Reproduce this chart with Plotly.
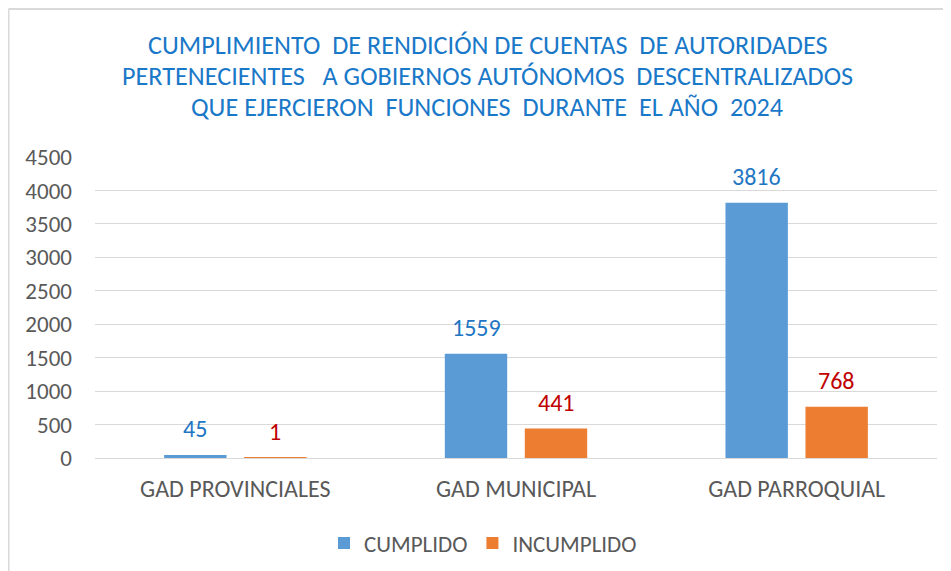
import plotly.graph_objects as go

categories = ["GAD PROVINCIALES", "GAD MUNICIPAL", "GAD PARROQUIAL"]
cumplido = [45, 1559, 3816]
incumplido = [1, 441, 768]
y_ticks = [0, 500, 1000, 1500, 2000, 2500, 3000, 3500, 4000, 4500]
title_lines = [
    "CUMPLIMIENTO  DE RENDICIÓN DE CUENTAS  DE AUTORIDADES",
    "PERTENECIENTES   A GOBIERNOS AUTÓNOMOS  DESCENTRALIZADOS",
    "QUE EJERCIERON  FUNCIONES  DURANTE  EL AÑO  2024",
]

FONT = "Carlito, Calibri, 'Liberation Sans Narrow', 'Open Sans', sans-serif"
OFF = 8  # page body margin
W, H = 951 - OFF, 571 - OFF
L, R, T, B = 95 - OFF, W - (937 - OFF), 157 - OFF, H - (458 - OFF)
pw = W - L - R
ph = H - T - B


def px_x(x):
    return (x - OFF - L) / pw


def px_y(y):
    return (H - B - (y - OFF)) / ph


fig = go.Figure()
fig.add_trace(go.Bar(
    name="CUMPLIDO", x=categories, y=cumplido,
    marker=dict(color="#5B9BD5", line=dict(width=0)),
))
fig.add_trace(go.Bar(
    name="INCUMPLIDO", x=categories, y=incumplido,
    marker=dict(color="#ED7D31", line=dict(width=0)),
))

annotations = []
for vals, color, shift in [(cumplido, "#1F77C4", -40), (incumplido, "#C00000", 40)]:
    for c, v in zip(categories, vals):
        annotations.append(dict(
            x=c, y=v, xref="x", yref="y", text=str(v), showarrow=False,
            xshift=shift, yshift=26, yanchor="middle", xanchor="center",
            font=dict(size=24, color=color, family=FONT),
        ))
for i, (line, yc) in enumerate(zip(title_lines, [45, 76, 107])):
    annotations.append(dict(
        x=px_x(487), y=px_y(yc), xref="paper", yref="paper", text=line,
        showarrow=False, xanchor="center", yanchor="middle",
        font=dict(size=26.2, color="#1A78C8", family=FONT),
    ))

fig.update_layout(
    width=W, height=H,
    margin=dict(l=L, r=R, t=T, b=B, autoexpand=False),
    paper_bgcolor="white", plot_bgcolor="white",
    font=dict(family=FONT, color="#595959", size=22),
    barmode="group", bargap=0.43, bargroupgap=0.22,
    showlegend=True,
    legend=dict(orientation="h", x=px_x(483), xanchor="center", y=px_y(543), yanchor="middle",
                font=dict(size=23, color="#595959", family=FONT),
                traceorder="normal"),
    annotations=annotations,
    xaxis=dict(showline=False, ticks="", tickfont=dict(size=24, color="#595959"),
               showgrid=False, ticklabelstandoff=14),
    yaxis=dict(range=[0, 4500], tickvals=y_ticks, showgrid=True, gridcolor="#D9D9D9",
               gridwidth=1, zeroline=True, zerolinecolor="#D9D9D9", zerolinewidth=1,
               showline=False, ticks="", ticklabelstandoff=22,
               tickfont=dict(size=23, color="#595959")),
    shapes=[
        dict(type="line", xref="paper", yref="paper", x0=px_x(8.5), x1=px_x(W + 20),
             y0=px_y(9), y1=px_y(9), line=dict(color="#D9D9D9", width=2)),
        dict(type="line", xref="paper", yref="paper", x0=px_x(8.5), x1=px_x(8.5),
             y0=px_y(9), y1=px_y(H + 20), line=dict(color="#D9D9D9", width=2)),
    ],
)

fig.write_html("out.html")
